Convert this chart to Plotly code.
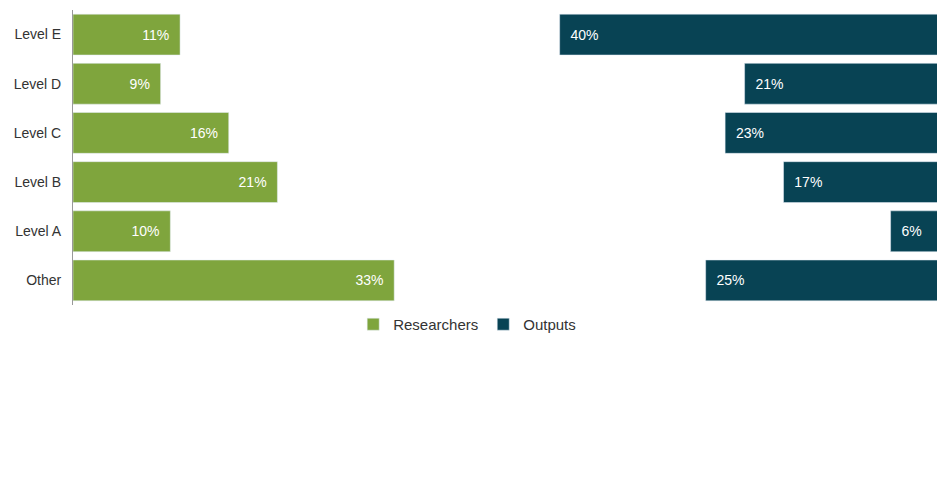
import plotly.graph_objects as go

categories = ["Other", "Level A", "Level B", "Level C", "Level D", "Level E"]
researchers = [33, 10, 21, 16, 9, 11]
outputs = [25, 6, 17, 23, 21, 40]

fig = go.Figure()
fig.add_trace(go.Bar(
    y=categories, x=researchers, orientation="h", name="Researchers",
    marker_color="#7FA53D", width=0.83,
    text=[f"{v}%\u00a0\u00a0" for v in researchers], textposition="inside",
    insidetextanchor="end", textfont=dict(color="white", size=14),
    xaxis="x", yaxis="y"))
fig.add_trace(go.Bar(
    y=categories, x=outputs, orientation="h", name="Outputs",
    marker_color="#084354", width=0.83,
    text=[f"\u00a0\u00a0{v}%" for v in outputs], textposition="inside",
    insidetextanchor="end", textfont=dict(color="white", size=14),
    xaxis="x2", yaxis="y"))

fig.update_layout(
    width=945, height=499,
    margin=dict(l=65, r=4, t=2, b=202, autoexpand=False),
    plot_bgcolor="white", paper_bgcolor="white",
    font=dict(family="Liberation Sans, Arial", size=14, color="#333333"),
    barmode="overlay",
    xaxis=dict(range=[0, 90], visible=False, fixedrange=True, automargin=False),
    xaxis2=dict(range=[90, 0], overlaying="x", visible=False, automargin=False),
    yaxis=dict(range=[-0.5, 5.5], showline=True, linecolor="#999999",
               linewidth=1, ticks="", showgrid=False, ticklabelstandoff=8,
               automargin=False),
    legend=dict(orientation="h", x=0.45, xanchor="center", y=-0.01,
                yanchor="top", font=dict(size=15), traceorder="normal",
                itemwidth=30),
    showlegend=True,
)
fig.write_html("out.html")
